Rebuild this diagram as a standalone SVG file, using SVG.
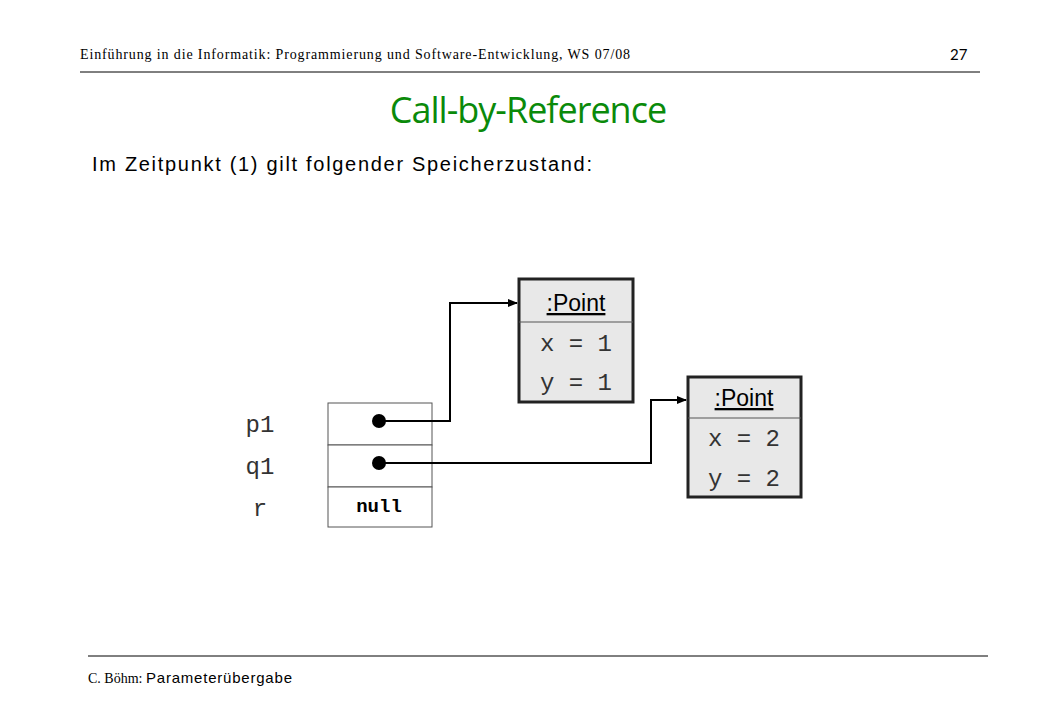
<svg xmlns="http://www.w3.org/2000/svg" width="1040" height="720" viewBox="0 0 1040 720">
<style>
.hdr{font-family:"Liberation Serif",serif;font-size:14px;fill:#000}
.sans{font-family:"Liberation Sans",Arial,sans-serif}
.mono{font-family:"Liberation Mono",monospace;fill:#333}
.obj{fill:#e8e8e8;stroke:#222;stroke-width:3}
.cell{fill:#fff;stroke:#555;stroke-width:1}
.conn{fill:none;stroke:#000;stroke-width:2}
</style>
<defs><marker id="ah" markerWidth="10" markerHeight="8" refX="9" refY="4" orient="auto" markerUnits="userSpaceOnUse"><path d="M0,0 L10,4 L0,8 z" fill="#000"/></marker></defs>
<rect width="1040" height="720" fill="#fff"/>
<text class="hdr" x="80" y="59" textLength="550" lengthAdjust="spacing">Einführung in die Informatik: Programmierung und Software-Entwicklung, WS 07/08</text>
<text x="950" y="60" style="font-family:Lato,sans-serif;font-size:15px">27</text>
<line x1="80" y1="72" x2="980" y2="72" stroke="#000"/>
<text x="528" y="123" text-anchor="middle" style="font-family:'Open Sans',sans-serif;font-size:36px;fill:#0a8a0a;letter-spacing:-1px">Call-by-Reference</text>
<text class="sans" x="92" y="171" font-size="20" textLength="500" lengthAdjust="spacing">Im Zeitpunkt (1) gilt folgender Speicherzustand:</text>
<g id="table">
<rect class="cell" x="328" y="403" width="104" height="42"/>
<rect class="cell" x="328" y="445" width="104" height="42"/>
<rect class="cell" x="328" y="487" width="104" height="40"/>
<text class="mono" x="260" y="432" font-size="24" text-anchor="middle">p1</text>
<text class="mono" x="260" y="474" font-size="24" text-anchor="middle">q1</text>
<text class="mono" x="260" y="516" font-size="24" text-anchor="middle">r</text>
<text x="379" y="512" font-size="19" font-weight="bold" text-anchor="middle" style="font-family:'Liberation Mono',monospace">null</text>
<circle cx="379" cy="421" r="7"/>
<circle cx="379" cy="463" r="7"/>
</g>
<g id="point1">
<rect class="obj" x="519" y="279" width="114" height="123"/>
<line x1="519" y1="322" x2="633" y2="322" stroke="#555"/>
<text class="sans" x="576" y="311" font-size="23" text-anchor="middle" text-decoration="underline">:Point</text>
<text class="mono" x="576" y="351" font-size="24" text-anchor="middle">x = 1</text>
<text class="mono" x="576" y="390" font-size="24" text-anchor="middle">y = 1</text>
</g>
<g id="point2">
<rect class="obj" x="688" y="377" width="113" height="120"/>
<line x1="688" y1="418" x2="801" y2="418" stroke="#555"/>
<text class="sans" x="744" y="406" font-size="23" text-anchor="middle" text-decoration="underline">:Point</text>
<text class="mono" x="744" y="446" font-size="24" text-anchor="middle">x = 2</text>
<text class="mono" x="744" y="486" font-size="24" text-anchor="middle">y = 2</text>
</g>
<g id="connectors">
<polyline class="conn" points="379,421 450,421 450,303 517,303" marker-end="url(#ah)"/>
<polyline class="conn" points="379,463 651,463 651,400 686,400" marker-end="url(#ah)"/>
</g>
<line x1="88" y1="656" x2="988" y2="656" stroke="#000"/>
<text class="hdr" x="88" y="683">C. Böhm: <tspan class="sans" font-size="15" textLength="146">Parameterübergabe</tspan></text>
</svg>
